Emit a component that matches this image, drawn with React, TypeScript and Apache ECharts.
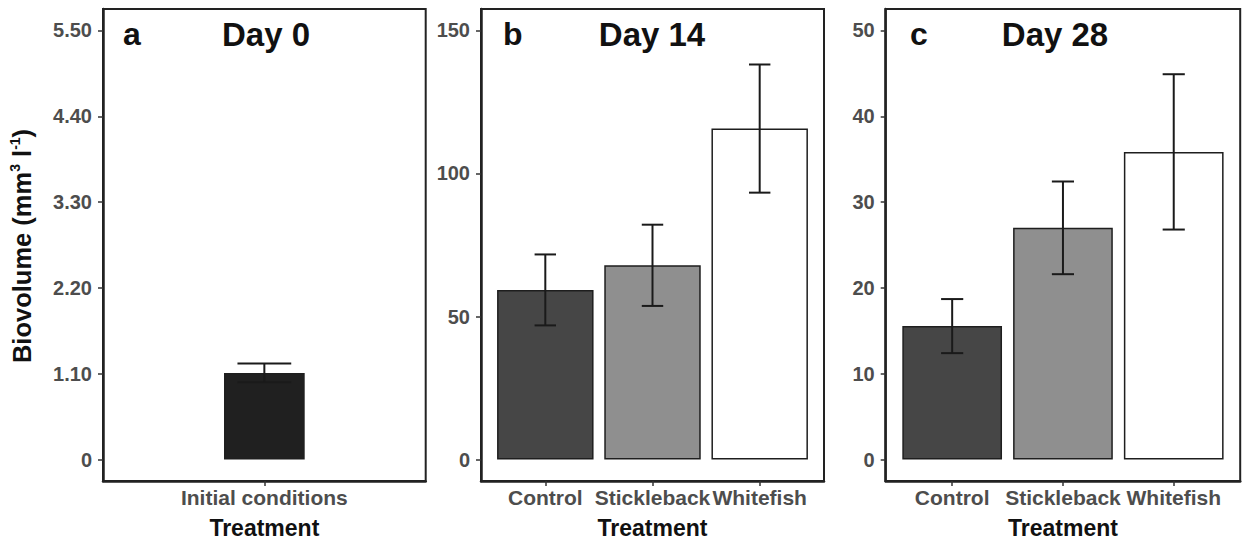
import React, { useEffect, useRef } from "react";
import * as echarts from "echarts";

// ---- data ----
const panelLetters = ["a", "b", "c"];
const panelTitles = ["Day 0", "Day 14", "Day 28"];
const catsA = ["Initial conditions"];
const catsBC = ["Control", "Stickleback", "Whitefish"];
const meanA = [1.11];
const errA = [0.12];
const meanB = [59.3, 67.9, 115.7];
const errB = [12.4, 14.2, 22.4];
const meanC = [15.55, 27.0, 35.85];
const errC = [3.15, 5.4, 9.05];
const yTicksA = [0, 1.1, 2.2, 3.3, 4.4, 5.5];
const yTicksB = [0, 50, 100, 150];
const yTicksC = [0, 10, 20, 30, 40, 50];
const fillA = ["#202020"];
const fillBC = ["#464646", "#8f8f8f", "#ffffff"];

const FONT = "'Liberation Sans', Arial, sans-serif";
const TOP = 9;
const HEIGHT = 472;

type Panel = {
  left: number;
  width: number;
  cats: string[];
  mean: number[];
  err: number[];
  ticks: number[];
  fills: string[];
  barU: number;
  ymin: number;
  ymax: number;
  fmt: (v: number) => string;
  titleX: number;
  letterX: number;
};

const panels: Panel[] = [
  {
    left: 103, width: 322.7, cats: catsA, mean: meanA, err: errA, ticks: yTicksA, fills: fillA,
    barU: 0.3, ymin: -0.275, ymax: 5.775, fmt: (v) => (v === 0 ? "0" : v.toFixed(2)),
    titleX: 266, letterX: 123,
  },
  {
    left: 481, width: 343, cats: catsBC, mean: meanB, err: errB, ticks: yTicksB, fills: fillBC,
    barU: 0.9, ymin: -7.5, ymax: 157.5, fmt: (v) => String(v),
    titleX: 652, letterX: 503,
  },
  {
    left: 885.7, width: 354.5, cats: catsBC, mean: meanC, err: errC, ticks: yTicksC, fills: fillBC,
    barU: 0.9, ymin: -2.5, ymax: 52.5, fmt: (v) => String(v),
    titleX: 1055, letterX: 910,
  },
];

function buildOption() {
  const grid: any[] = [];
  const xAxis: any[] = [];
  const yAxis: any[] = [];
  const series: any[] = [];
  const graphic: any[] = [];

  panels.forEach((p, i) => {
    const n = p.cats.length;
    const xmin = 0.4;
    const xmax = n + 0.6;
    const xs = p.cats.map((_, k) => k + 1);
    grid.push({
      left: p.left, top: TOP, width: p.width, height: HEIGHT,
      outerBoundsMode: "none", containLabel: false,
      show: true, borderColor: "#222", borderWidth: 2, backgroundColor: "transparent",
    });
    xAxis.push({
      type: "value", gridIndex: i, min: xmin, max: xmax,
      splitLine: { show: false },
      axisLine: { show: true, onZero: false, lineStyle: { color: "#222", width: 2.5 } },
      axisTick: { show: true, customValues: xs, length: 5, lineStyle: { color: "#333", width: 1.5 } },
      axisLabel: {
        customValues: xs,
        formatter: (v: number) => p.cats[Math.round(v) - 1] ?? "",
        fontSize: 21, fontWeight: "bold", color: "#4d4d4d", margin: 6, fontFamily: FONT,
      },
      name: "Treatment", nameLocation: "middle", nameGap: 35,
      nameTextStyle: { fontSize: 23, fontWeight: "bold", color: "#111", fontFamily: FONT },
    });
    yAxis.push({
      type: "value", gridIndex: i, min: p.ymin, max: p.ymax,
      splitLine: { show: false },
      axisLine: { show: true, onZero: false, lineStyle: { color: "#222", width: 2.5 } },
      axisTick: { show: true, customValues: p.ticks, length: 5, lineStyle: { color: "#333", width: 1.5 } },
      axisLabel: {
        customValues: p.ticks,
        formatter: (v: number) => p.fmt(v),
        fontSize: 20, fontWeight: "bold", color: "#4d4d4d", margin: 11, fontFamily: FONT,
      },
    });
    const barWidth = (p.width * p.barU) / (xmax - xmin);
    series.push({
      type: "bar", xAxisIndex: i, yAxisIndex: i, barWidth,
      data: p.mean.map((m, k) => ({
        value: [xs[k], m],
        itemStyle: { color: p.fills[k], borderColor: "#1e1e1e", borderWidth: 1.5 },
      })),
      z: 2,
    });
    series.push({
      type: "custom", xAxisIndex: i, yAxisIndex: i, z: 3,
      data: p.mean.map((m, k) => [xs[k], m - p.err[k], m + p.err[k]]),
      encode: { x: 0, y: [1, 2] },
      renderItem: (_params: any, api: any) => {
        const x = api.value(0);
        const lo = api.value(1);
        const hi = api.value(2);
        const t = api.coord([x, hi]);
        const b = api.coord([x, lo]);
        const tl = api.coord([x - 0.1, hi]);
        const tr = api.coord([x + 0.1, hi]);
        const bl = api.coord([x - 0.1, lo]);
        const br = api.coord([x + 0.1, lo]);
        const style = { stroke: "#1a1a1a", lineWidth: 2 };
        return {
          type: "group",
          children: [
            { type: "line", shape: { x1: t[0], y1: t[1], x2: b[0], y2: b[1] }, style },
            { type: "line", shape: { x1: tl[0], y1: tl[1], x2: tr[0], y2: tr[1] }, style },
            { type: "line", shape: { x1: bl[0], y1: bl[1], x2: br[0], y2: br[1] }, style },
          ],
        };
      },
    });
    graphic.push({
      type: "text", x: p.letterX, y: 34,
      style: {
        text: panelLetters[i], fontSize: 32, fontWeight: "bold", fill: "#111", fontFamily: FONT,
        align: "left", verticalAlign: "middle",
      },
    });
    graphic.push({
      type: "text", x: p.titleX, y: 34,
      style: {
        text: panelTitles[i], fontSize: 33, fontWeight: "bold", fill: "#111", fontFamily: FONT,
        align: "center", verticalAlign: "middle",
      },
    });
  });

  graphic.push({
    type: "text", x: 22, y: 246, rotation: Math.PI / 2,
    style: {
      text: "{m|Biovolume (mm}{s|3}{m| l}{s|-1}{m|)}",
      align: "center", verticalAlign: "middle", fontFamily: FONT,
      rich: {
        m: { fontSize: 25.5, fontWeight: "bold", fill: "#111", fontFamily: FONT, lineHeight: 28 },
        s: { fontSize: 14, fontWeight: "bold", fill: "#111", fontFamily: FONT, verticalAlign: "top", lineHeight: 28, padding: [0, 0, 10, 0] },
      },
    },
  });

  return {
    animation: false,
    backgroundColor: "#ffffff",
    textStyle: { fontFamily: FONT },
    grid, xAxis, yAxis, series, graphic,
  };
}

export default function App() {
  const ref = useRef<HTMLDivElement>(null);
  useEffect(() => {
    if (!ref.current) return;
    const chart = echarts.init(ref.current, null, { renderer: "svg" });
    chart.setOption(buildOption() as any);
    return () => chart.dispose();
  }, []);
  return (
    <div
      ref={ref}
      style={{ position: "fixed", left: 0, top: 0, width: 1243, height: 541, background: "#fff" }}
    />
  );
}
